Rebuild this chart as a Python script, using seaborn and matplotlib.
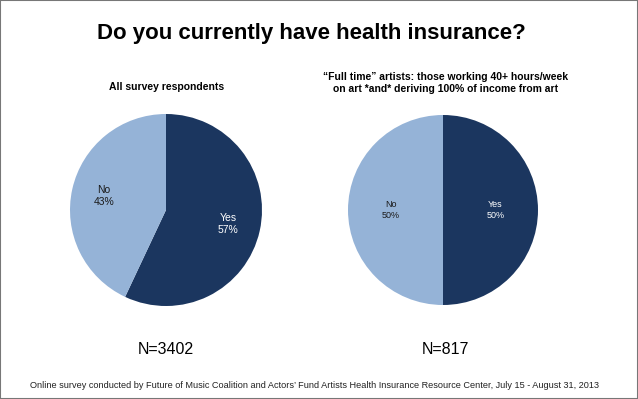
import matplotlib.pyplot as plt
import seaborn as sns

answers = ['Yes', 'No']
all_respondents = [57, 43]
full_time = [50, 50]
n_all = 3402
n_full = 817

title = 'Do you currently have health insurance?'
subtitle_all = 'All survey respondents'
subtitle_full = ('\u201cFull time\u201d artists: those working 40+ hours/week\n'
                 'on art *and* deriving 100% of income from art')
source = ('Online survey conducted by Future of Music Coalition and Actors\u2019 Fund '
          'Artists Health Insurance Resource Center, July 15 - August 31, 2013')

sns.set_style('white')
plt.rcParams['font.family'] = ['Liberation Sans', 'DejaVu Sans']
plt.rcParams['text.color'] = 'black'

colors = ['#1b365f', '#95b3d7']
label_colors = ['white', '#1a1a1a']

W, H = 638, 399
fig = plt.figure(figsize=(W / 100, H / 100), dpi=100)


def draw_pie(cx, cy, r, values, label_size, label_dist):
    ax = fig.add_axes([(cx - r) / W, (H - cy - r) / H, 2 * r / W, 2 * r / H])
    labels = [f'{a}\n{v}%' for a, v in zip(answers, values)]
    wedges, texts = ax.pie(values, labels=labels, colors=colors, startangle=90,
                           counterclock=False, labeldistance=label_dist,
                           wedgeprops=dict(linewidth=0))
    for t, c in zip(texts, label_colors):
        t.set_ha('center')
        t.set_va('center')
        t.set_multialignment('center')
        t.set_color(c)
        t.set_fontsize(label_size)
    ax.set_xlim(-1, 1)
    ax.set_ylim(-1, 1)
    return ax


draw_pie(166, 210, 96, all_respondents, 7.5, 0.66)
draw_pie(443, 210, 95, full_time, 6.5, 0.55)

fig.text(311 / W, 1 - 33 / H, title, ha='center', va='center',
         fontsize=16, fontweight='bold')
fig.text(167 / W, 1 - 87 / H, subtitle_all, ha='center', va='center',
         fontsize=7.5, fontweight='bold')
fig.text(446 / W, 1 - 83 / H, subtitle_full, ha='center', va='center',
         fontsize=7.5, fontweight='bold', linespacing=1.3)
fig.text(166 / W, 1 - 349 / H, f'N={n_all}', ha='center', va='center', fontsize=11.5)
fig.text(445 / W, 1 - 349 / H, f'N={n_full}', ha='center', va='center', fontsize=11.5)
fig.text(314 / W, 1 - 385 / H, source, ha='center', va='center', fontsize=6.6,
         color='#222222')

fig.add_artist(plt.Rectangle((0, 0), 1, 1, transform=fig.transFigure, fill=False,
                             edgecolor='#777777', linewidth=1.5))

fig.savefig('out.png', dpi=100)
